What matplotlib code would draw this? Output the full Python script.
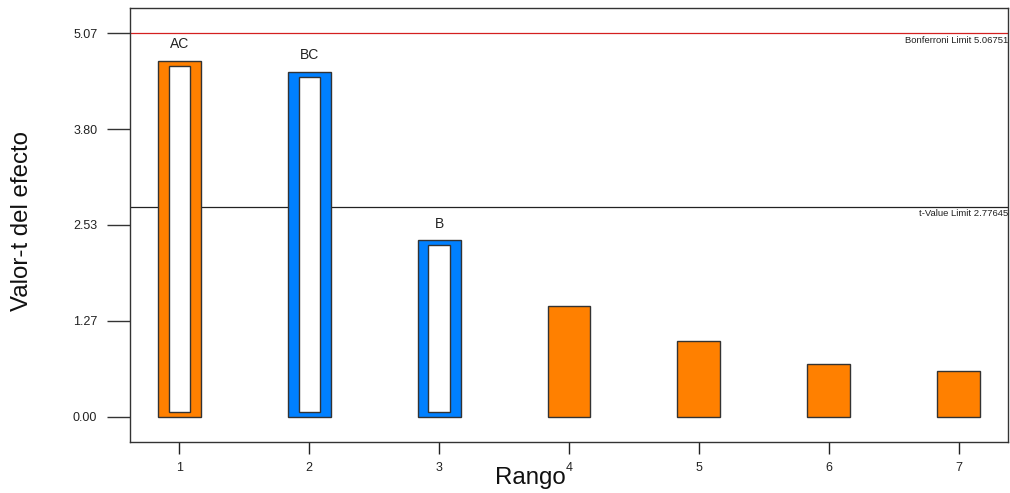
import matplotlib
matplotlib.use("Agg")
import matplotlib.pyplot as plt
from matplotlib.patches import Rectangle

# Pareto chart of standardized effects
ranks = [1, 2, 3, 4, 5, 6, 7]
t_values = [4.70, 4.55, 2.33, 1.46, 1.00, 0.70, 0.61]
effect_names = ["AC", "BC", "B", "", "", "", ""]
bar_colors = ["#FF8000", "#0080FF", "#0080FF", "#FF8000", "#FF8000", "#FF8000", "#FF8000"]
significant = [True, True, True, False, False, False, False]

bonferroni_limit = 5.06751
t_value_limit = 2.77645
y_ticks = [0.0, 1.2669, 2.5338, 3.8006, 5.0675]
y_tick_labels = ["0.00", "1.27", "2.53", "3.80", "5.07"]

plt.rcParams["font.family"] = ["Liberation Sans", "DejaVu Sans"]

fig = plt.figure(figsize=(10.10, 4.93), dpi=100)
ax = fig.add_axes([0.1287, 0.104, 0.8693, 0.8798])

bar_w = 0.33
edge = "#333333"
ax.bar(ranks, t_values, width=bar_w, color=bar_colors, edgecolor=edge,
       linewidth=1.0, zorder=2)

# white core for the effects above the t-value limit
inset = 0.066
for x, v, sig in zip(ranks, t_values, significant):
    if sig:
        ax.add_patch(Rectangle((x - bar_w / 4, inset), bar_w / 2, v - 2 * inset,
                               facecolor="white", edgecolor=edge,
                               linewidth=1.0, zorder=3))

for x, v, name in zip(ranks, t_values, effect_names):
    if name:
        ax.text(x, v + 0.17, name, ha="center", va="baseline",
                fontsize=10, color="#222222")

ax.axhline(bonferroni_limit, color="#d42020", linewidth=0.9, zorder=1)
ax.axhline(t_value_limit, color="#222222", linewidth=0.9, zorder=1)
ax.text(7.385, bonferroni_limit - 0.035,
        f"Bonferroni Limit {bonferroni_limit:.5f}",
        ha="right", va="top", fontsize=6.8, color="#222222")
ax.text(7.385, t_value_limit - 0.035,
        f"t-Value Limit {t_value_limit:.5f}",
        ha="right", va="top", fontsize=6.8, color="#222222")

ax.set_xlim(0.62, 7.38)
ax.set_ylim(-0.33, 5.40)

ax.set_xticks(ranks)
ax.set_xticklabels([str(r) for r in ranks])
ax.set_yticks(y_ticks)
ax.set_yticklabels(y_tick_labels)

ax.tick_params(axis="x", direction="out", length=8.5, width=1.0,
               color="#222222", labelsize=9, labelcolor="#222222", pad=6)
ax.tick_params(axis="y", direction="out", length=16.5, width=1.0,
               color="#333333", labelsize=9, labelcolor="#222222", pad=7)

for side in ["left", "right", "top", "bottom"]:
    ax.spines[side].set_color("#333333")
    ax.spines[side].set_linewidth(1.0)

fig.text(530 / 1010, (493 - 478) / 493, "Rango", ha="center", va="center",
         fontsize=17.3, color="#111111")
fig.text(22 / 1010, (493 - 221) / 493, "Valor-t del efecto", ha="center",
         va="center", rotation=90, fontsize=17.3, color="#111111")

fig.savefig("out.png", dpi=100)
